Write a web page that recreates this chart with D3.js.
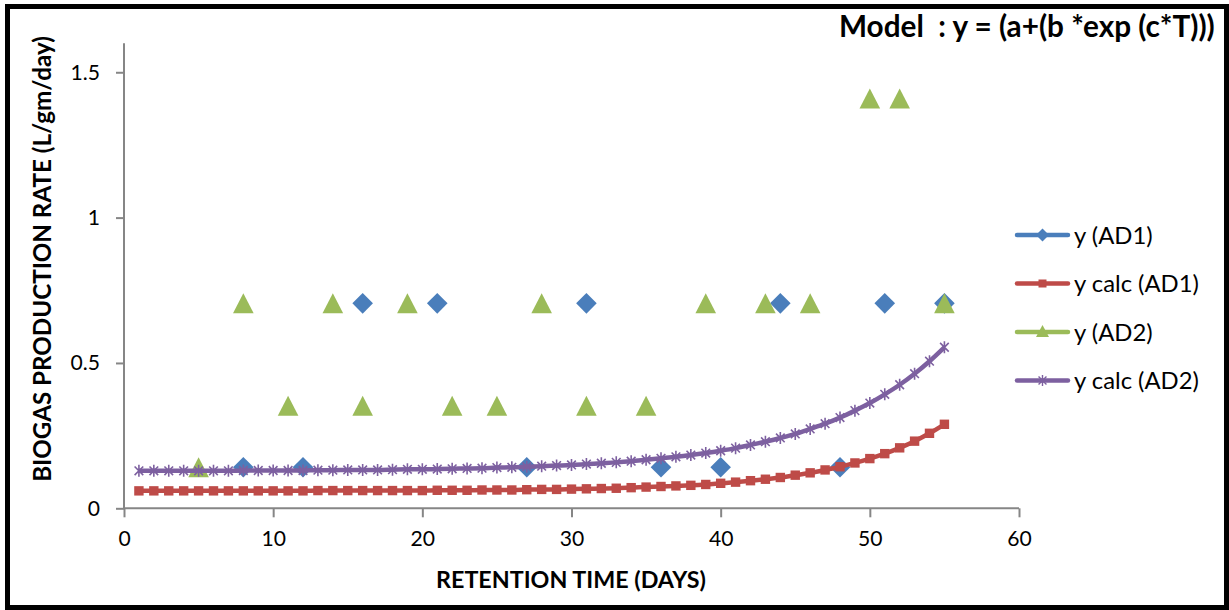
<!DOCTYPE html>
<html>
<head>
<meta charset="utf-8">
<script src="https://cdn.jsdelivr.net/npm/d3@7"></script>
<style>
  html, body { margin: 0; padding: 0; background: #fff; }
  svg { display: block; }
  text { font-family: Lato, "Open Sans", sans-serif; fill: #000; }
</style>
</head>
<body>
<svg id="chart" width="1229" height="610"></svg>
<script>
// Measured biogas production rate, digester AD1
const ad1Days = [8, 12, 16, 21, 27, 31, 36, 40, 44, 48, 51, 55];
const ad1Rate = [0.141, 0.141, 0.705, 0.705, 0.141, 0.705, 0.141, 0.141, 0.705, 0.141, 0.705, 0.705];

// Measured biogas production rate, digester AD2
const ad2Days = [5, 8, 11, 14, 16, 19, 22, 25, 28, 31, 35, 39, 43, 46, 50, 52, 55];
const ad2Rate = [0.141, 0.705, 0.353, 0.705, 0.353, 0.705, 0.353, 0.353, 0.705, 0.353, 0.353, 0.705, 0.705, 0.705, 1.41, 1.41, 0.705];

// Days at which the fitted model is evaluated
const calcDays = [1, 2, 3, 4, 5, 6, 7, 8, 9, 10, 11, 12, 13, 14, 15, 16, 17, 18, 19, 20,
  21, 22, 23, 24, 25, 26, 27, 28, 29, 30, 31, 32, 33, 34, 35, 36, 37, 38, 39, 40,
  41, 42, 43, 44, 45, 46, 47, 48, 49, 50, 51, 52, 53, 54, 55];

// Fitted model y = a + b*exp(c*T), AD1
const ad1Calc = [0.060, 0.060, 0.060, 0.060, 0.060, 0.060, 0.060, 0.060, 0.060, 0.060,
  0.060, 0.060, 0.061, 0.061, 0.061, 0.061, 0.061, 0.061, 0.061, 0.061,
  0.062, 0.062, 0.062, 0.063, 0.063, 0.063, 0.064, 0.065, 0.065, 0.066,
  0.067, 0.068, 0.069, 0.071, 0.073, 0.075, 0.077, 0.079, 0.082, 0.086,
  0.090, 0.095, 0.100, 0.106, 0.114, 0.122, 0.132, 0.143, 0.156, 0.171,
  0.188, 0.208, 0.231, 0.258, 0.289];

// Fitted model y = a + b*exp(c*T), AD2
const ad2Calc = [0.129, 0.129, 0.129, 0.129, 0.129, 0.129, 0.129, 0.130, 0.130, 0.130,
  0.130, 0.130, 0.131, 0.131, 0.132, 0.132, 0.132, 0.133, 0.134, 0.134,
  0.135, 0.136, 0.137, 0.138, 0.140, 0.141, 0.143, 0.145, 0.147, 0.149,
  0.152, 0.155, 0.158, 0.162, 0.167, 0.172, 0.177, 0.183, 0.190, 0.198,
  0.207, 0.218, 0.229, 0.242, 0.256, 0.273, 0.291, 0.312, 0.336, 0.362,
  0.392, 0.425, 0.463, 0.506, 0.554];

const xTicks = [0, 10, 20, 30, 40, 50, 60];
const yTicks = [0, 0.5, 1, 1.5];
const legendLabels = ["y (AD1)", "y calc (AD1)", "y (AD2)", "y calc (AD2)"];

const titleText = "Model  : y = (a+(b *exp (c*T)))";
const xTitle = "RETENTION TIME (DAYS)";
const yTitle = "BIOGAS PRODUCTION RATE (L/gm/day)";

const COLORS = { blue: "#4a7ebb", red: "#be4b48", green: "#9bbb59", purple: "#7d60a0" };
const AXIS = "#868686";

const svg = d3.select("#chart");

// Frame round the whole chart
svg.append("rect")
  .attr("x", 7.5).attr("y", 6.5)
  .attr("width", 1219).attr("height", 601)
  .attr("fill", "#fff").attr("stroke", "#000").attr("stroke-width", 5);

const plot = { left: 124, right: 1019, top: 43.2, bottom: 508.3 };
const x = d3.scaleLinear().domain([0, 60]).range([plot.left, plot.right]);
const y = d3.scaleLinear().domain([0, 1.6]).range([plot.bottom, plot.top]);

// Scale a text element so it spans a given width
function fitWidth(sel, width) {
  const w = sel.node().getComputedTextLength();
  const fs = parseFloat(sel.attr("font-size"));
  sel.attr("font-size", fs * width / w);
  return fs * width / w;
}

// Tick label size from the width of "10"
const probe = svg.append("text").attr("font-size", 20).text("10");
const tickSize = fitWidth(probe, 24.5);
probe.remove();

// Axes
const xAxis = svg.append("g")
  .attr("transform", `translate(0,${plot.bottom})`)
  .call(d3.axisBottom(x).tickValues(xTicks).tickSize(9).tickPadding(14).tickFormat(d3.format("d")));
const yAxis = svg.append("g")
  .attr("transform", `translate(${plot.left},0)`)
  .call(d3.axisLeft(y).tickValues(yTicks).tickSize(8).tickPadding(16).tickFormat(d => String(d)));

[xAxis, yAxis].forEach(g => {
  g.select(".domain").attr("stroke", AXIS).attr("stroke-width", 2);
  g.selectAll(".tick line").attr("stroke", AXIS).attr("stroke-width", 2);
  g.selectAll(".tick text").attr("font-size", tickSize).attr("fill", "#000")
    .style("font-family", "Lato, 'Open Sans', sans-serif");
});
// the y axis line reaches the top of the value range
yAxis.select(".domain").attr("d", `M-0,${plot.bottom}V${plot.top}`);
xAxis.select(".domain").attr("d", `M${plot.left},0H${plot.right}`);
xAxis.selectAll(".tick text").attr("dy", "0.71em");

// Marker shapes
function diamondPath(r) { return `M0,${-r}L${r},0L0,${r}L${-r},0Z`; }
function trianglePath(w, h) { return `M0,${-h / 2}L${w / 2},${h / 2}L${-w / 2},${h / 2}Z`; }
function starPath(r) {
  const d = r * 0.72;
  return `M${-d},${-d}L${d},${d}M${-d},${d}L${d},${-d}M0,${-r}L0,${r}`;
}

const line = d3.line().x(d => x(d[0])).y(d => y(d[1])).curve(d3.curveMonotoneX);

// y (AD1)
svg.append("g").selectAll("path")
  .data(ad1Days.map((d, i) => [d, ad1Rate[i]]))
  .join("path")
  .attr("transform", d => `translate(${x(d[0])},${y(d[1])})`)
  .attr("d", diamondPath(10.3))
  .attr("fill", COLORS.blue);

// y calc (AD1)
const calc1 = calcDays.map((d, i) => [d, ad1Calc[i]]);
svg.append("path").datum(calc1)
  .attr("d", line).attr("fill", "none")
  .attr("stroke", COLORS.red).attr("stroke-width", 4.5).attr("stroke-linejoin", "round");
svg.append("g").selectAll("rect")
  .data(calc1)
  .join("rect")
  .attr("x", d => x(d[0]) - 4.7).attr("y", d => y(d[1]) - 4.7)
  .attr("width", 9.4).attr("height", 9.4)
  .attr("fill", COLORS.red);

// y (AD2)
svg.append("g").selectAll("path")
  .data(ad2Days.map((d, i) => [d, ad2Rate[i]]))
  .join("path")
  .attr("transform", d => `translate(${x(d[0])},${y(d[1])})`)
  .attr("d", trianglePath(20.6, 20))
  .attr("fill", COLORS.green);

// y calc (AD2)
const calc2 = calcDays.map((d, i) => [d, ad2Calc[i]]);
svg.append("path").datum(calc2)
  .attr("d", line).attr("fill", "none")
  .attr("stroke", COLORS.purple).attr("stroke-width", 4.5).attr("stroke-linejoin", "round");
svg.append("g").selectAll("path")
  .data(calc2)
  .join("path")
  .attr("transform", d => `translate(${x(d[0])},${y(d[1])})`)
  .attr("d", starPath(6))
  .attr("fill", "none").attr("stroke", COLORS.purple).attr("stroke-width", 1.6);

// Legend
const legendRows = [235, 283.5, 332, 380.5];
const legend = svg.append("g");
legendLabels.forEach((label, i) => {
  const ly = legendRows[i];
  const color = [COLORS.blue, COLORS.red, COLORS.green, COLORS.purple][i];
  legend.append("line")
    .attr("x1", 1017).attr("x2", 1068).attr("y1", ly).attr("y2", ly)
    .attr("stroke", color).attr("stroke-width", 4.5).attr("stroke-linecap", "round");
  const m = legend.append("g").attr("transform", `translate(1042.5,${ly})`);
  if (i === 0) m.append("path").attr("d", diamondPath(6.5)).attr("fill", color);
  if (i === 1) m.append("rect").attr("x", -4).attr("y", -4).attr("width", 8).attr("height", 8).attr("fill", color);
  if (i === 2) m.append("path").attr("d", trianglePath(13, 12)).attr("transform", "translate(0,-1)").attr("fill", color);
  if (i === 3) m.append("path").attr("d", starPath(5.5)).attr("fill", "none").attr("stroke", color).attr("stroke-width", 1.4);
});
const legendText = legend.selectAll("text.lab")
  .data(legendLabels)
  .join("text")
  .attr("class", "lab")
  .attr("x", 1074)
  .attr("y", (d, i) => legendRows[i])
  .attr("dy", "0.36em")
  .attr("font-size", 20)
  .text(d => d);
// size all legend labels from the longest one
const probe2 = svg.append("text").attr("font-size", 20).text(legendLabels[1]);
const legSize = fitWidth(probe2, 125);
probe2.remove();
legendText.attr("font-size", legSize);

// Model caption
const cap = svg.append("text")
  .attr("x", 839).attr("y", 37)
  .attr("font-size", 20).attr("font-weight", 700)
  .style("white-space", "pre")
  .attr("xml:space", "preserve")
  .text(titleText);
fitWidth(cap, 376);

// Axis titles
const xt = svg.append("text")
  .attr("x", 571).attr("y", 588)
  .attr("text-anchor", "middle")
  .attr("font-size", 20).attr("font-weight", 700)
  .text(xTitle);
fitWidth(xt, 270);

const yt = svg.append("text")
  .attr("transform", "translate(51,259) rotate(-90)")
  .attr("text-anchor", "middle")
  .attr("font-size", 20).attr("font-weight", 700)
  .text(yTitle);
fitWidth(yt, 446);
</script>
</body>
</html>
